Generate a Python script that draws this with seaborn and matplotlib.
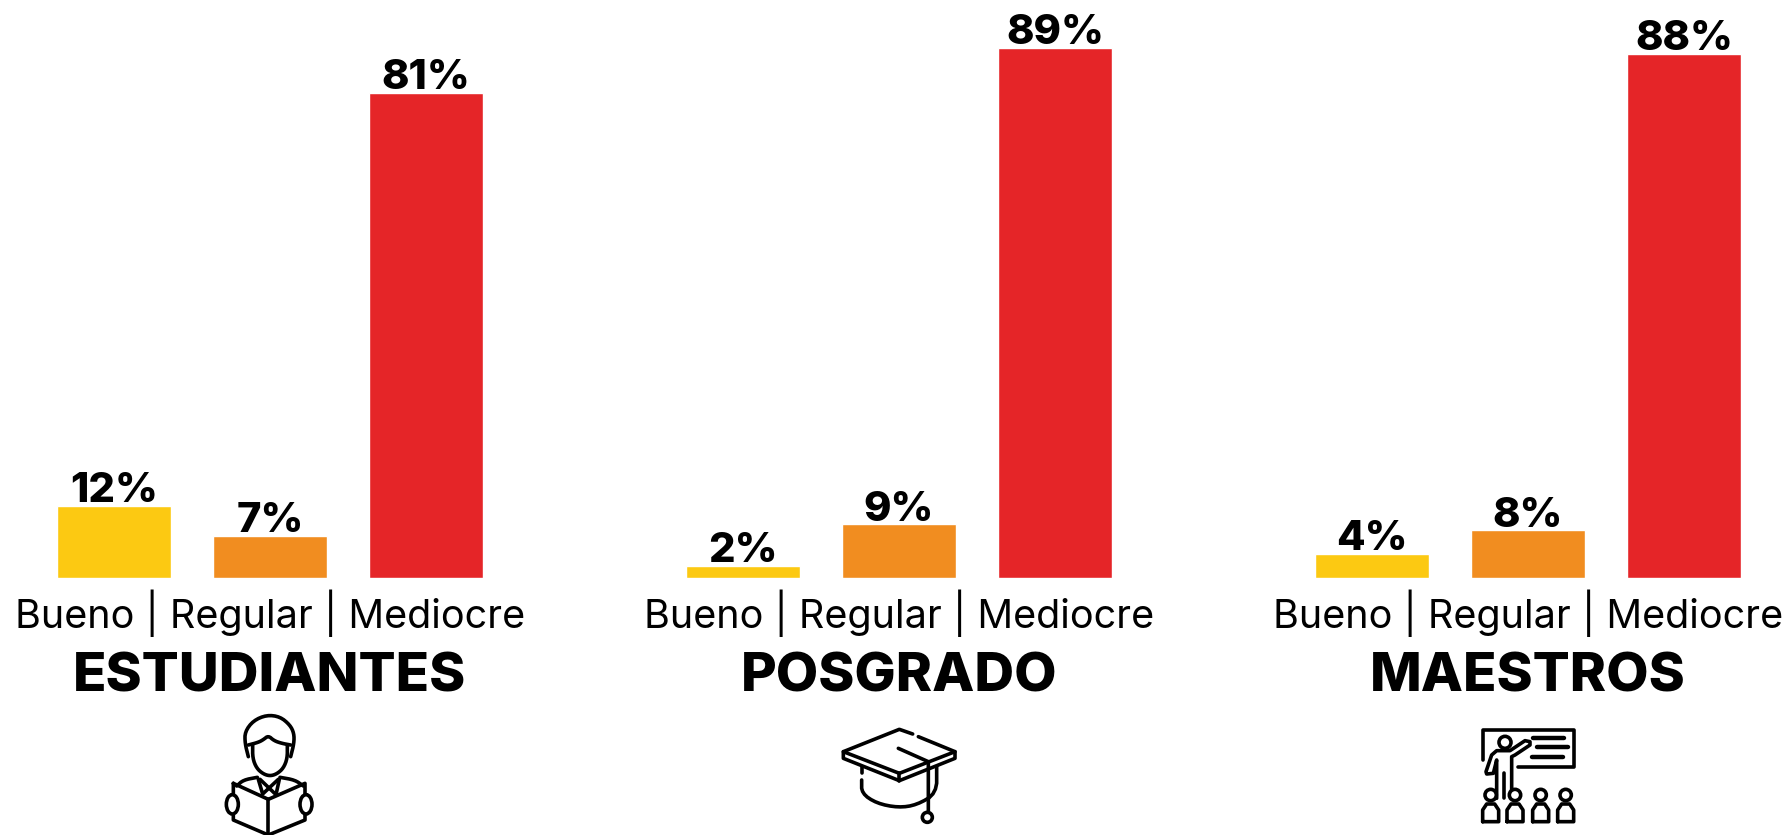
import seaborn as sns
import matplotlib.pyplot as plt
from matplotlib.patches import Circle, Ellipse

ANCHO, ALTO = 1791, 835

grupos = ['ESTUDIANTES', 'POSGRADO', 'MAESTROS']
categorias = ['Bueno', 'Regular', 'Mediocre']
valores_estudiantes = [12, 7, 81]
valores_posgrado = [2, 9, 89]
valores_maestros = [4, 8, 88]
colores = ['#FCC912', '#F18D20', '#E52528']
centros = [270, 899, 1528]
# Cada panel del original tiene una escala ligeramente distinta
limites_y = [94.4, 94.9, 94.9]

sns.set_theme(style="white")
plt.rcParams['font.family'] = ['Inter', 'DejaVu Sans']

fig = plt.figure(figsize=(ANCHO / 100, ALTO / 100), dpi=100, facecolor='white')

# Capa en pixeles para los textos y los iconos
capa = fig.add_axes([0, 0, 1, 1])
capa.set_xlim(0, ANCHO)
capa.set_ylim(ALTO, 0)
capa.axis('off')

GROSOR = 2.6


def suavizar(puntos, vueltas=2):
    # Chaikin, conservando los extremos
    for _ in range(vueltas):
        nuevos = [puntos[0]]
        for a, b in zip(puntos[:-1], puntos[1:]):
            nuevos.append((0.75 * a[0] + 0.25 * b[0], 0.75 * a[1] + 0.25 * b[1]))
            nuevos.append((0.25 * a[0] + 0.75 * b[0], 0.25 * a[1] + 0.75 * b[1]))
        nuevos.append(puntos[-1])
        puntos = nuevos
    return puntos


def trazo(puntos, ox, oy, lw=GROSOR, suave=False, z=3):
    # Los puntos vienen del recorte a 3x del icono
    if suave:
        puntos = suavizar(puntos)
    xs = [ox + p[0] / 3 for p in puntos]
    ys = [oy + p[1] / 3 for p in puntos]
    capa.plot(xs, ys, color='black', lw=lw, solid_capstyle='round', solid_joinstyle='round', zorder=z)


def circulo(x, y, r, ox, oy):
    capa.add_patch(Circle((ox + x / 3, oy + y / 3), r / 3, fc='white', ec='black', lw=GROSOR, zorder=4))


def icono_estudiante(ox, oy):
    trazo([(145, 170), (135, 130), (135, 95), (160, 62), (200, 45), (240, 50), (270, 75),
           (282, 100), (282, 130), (272, 170)], ox, oy, suave=True)
    trazo([(145, 135), (175, 127), (190, 119), (205, 107), (222, 122), (245, 130), (272, 135)], ox, oy, suave=True)
    trazo([(158, 135), (158, 175), (170, 205), (190, 222), (210, 228), (230, 222), (250, 205),
           (262, 175), (262, 135)], ox, oy, suave=True)
    trazo([(110, 258), (130, 240), (172, 232)], ox, oy, suave=True)
    trazo([(240, 232), (285, 240), (310, 258)], ox, oy, suave=True)
    trazo([(175, 238), (188, 282), (235, 238)], ox, oy)
    trazo([(180, 238), (228, 284), (238, 238)], ox, oy)
    trazo([(100, 250), (100, 360), (205, 405), (315, 360), (315, 250), (205, 298), (100, 250)], ox, oy)
    trazo([(205, 298), (205, 405)], ox, oy)
    for x in (97, 318):
        capa.add_patch(Ellipse((ox + x / 3, oy + 313 / 3), 36 / 3, 58 / 3, fc='white', ec='black',
                               lw=GROSOR, zorder=4))


def icono_birrete(ox, oy):
    trazo([(278, 72), (238, 58), (70, 125), (70, 145), (238, 212), (405, 145), (405, 125), (295, 80)], ox, oy)
    trazo([(70, 125), (238, 190), (405, 125)], ox, oy)
    trazo([(238, 190), (238, 212)], ox, oy)
    trazo([(235, 115), (325, 155), (325, 305)], ox, oy)
    trazo([(125, 170), (125, 190)], ox, oy)
    trazo([(125, 210), (125, 250), (170, 280), (235, 293), (290, 285), (350, 250), (350, 170)], ox, oy, suave=True)
    circulo(322, 322, 15, ox, oy)


def icono_maestro(ox, oy):
    trazo([(68, 150), (68, 60), (342, 60), (342, 170), (175, 170)], ox, oy)
    trazo([(220, 83), (312, 83)], ox, oy, lw=3.2)
    trazo([(232, 112), (325, 112)], ox, oy, lw=3.2)
    trazo([(215, 140), (308, 140)], ox, oy, lw=3.2)
    circulo(135, 97, 18, ox, oy)
    trazo([(110, 265), (110, 150), (100, 190), (80, 192), (78, 185), (95, 135), (110, 122), (150, 122),
           (195, 92), (210, 95), (210, 105), (165, 135), (155, 140), (155, 265)], ox, oy)
    trazo([(133, 190), (133, 265)], ox, oy)
    for x in (92, 165, 242, 317):
        circulo(x, 255, 17, ox, oy)
        trazo([(x - 24, 335), (x - 24, 300), (x - 12, 282), (x + 12, 282), (x + 24, 300),
               (x + 24, 335), (x - 24, 335)], ox, oy)


# Graficos de barras
series = [valores_estudiantes, valores_posgrado, valores_maestros]
for nombre, valores, centro, limite in zip(grupos, series, centros, limites_y):
    ax = fig.add_axes([(centro - 234) / ANCHO, (ALTO - 578) / ALTO, 468 / ANCHO, 565 / ALTO])
    sns.barplot(x=categorias, y=valores, hue=categorias, palette=colores, saturation=1,
                width=0.735, legend=False, ax=ax)
    ax.set_ylim(0, limite)
    ax.set_xlim(-0.5, 2.5)
    ax.patch.set_alpha(0)
    ax.axis('off')
    for barras, valor in zip(ax.containers, valores):
        ax.bar_label(barras, labels=[f'{valor}%'], padding=-3, fontsize=30, fontweight=800, color='black')
    capa.text(centro, 613, ' | '.join(categorias), ha='center', va='center', fontsize=28.5, color='black')
    capa.text(centro, 677, nombre, ha='center', va='center', fontsize=39.5, fontweight=800, color='black')

icono_estudiante(200, 700)
icono_birrete(820, 710)
icono_maestro(1460, 710)

fig.savefig('out.png', dpi=100, facecolor='white')
